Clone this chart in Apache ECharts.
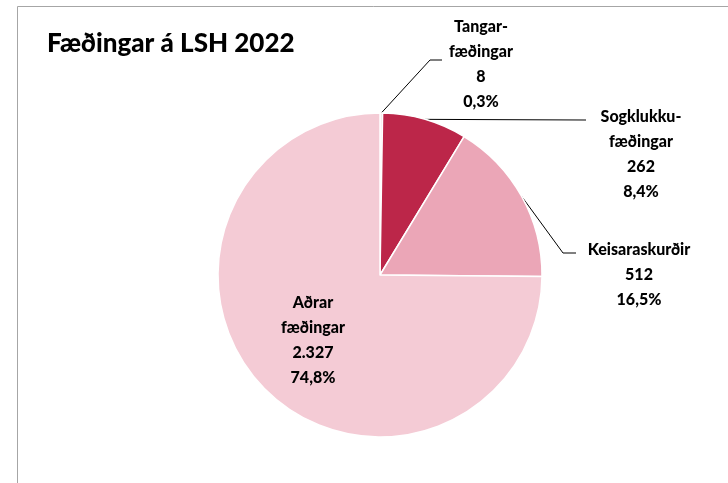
<!DOCTYPE html>
<html>
<head>
<meta charset="utf-8">
<script src="https://cdn.jsdelivr.net/npm/echarts@6/dist/echarts.min.js"></script>
<style>
  html, body { margin: 0; padding: 0; background: #fff; }
  #chart { width: 728px; height: 483px; }
</style>
</head>
<body>
<div id="chart"></div>
<script>
// gögn lesin af myndinni
const categories = ['Tangar-\nfæðingar', 'Sogklukku-\nfæðingar', 'Keisaraskurðir', 'Aðrar\nfæðingar'];
const births = [8, 262, 512, 2327];
const sliceColors = ['#f7dde3', '#bc2649', '#eba6b7', '#f4cbd5'];

// staðsetning merkja (miðja textans) og brotpunktar leiðarlína
const labelSpots = [
  { x: 481, y: 64, bend: [430, 60], end: [442, 60] },
  { x: 641, y: 154, bend: null, end: [586, 120] },
  { x: 639, y: 275, bend: [563, 253], end: [576, 253] },
  { x: 313, y: 340 }
];

const total = births.reduce((a, b) => a + b, 0);

// íslensk talnaframsetning: 2.327 og 74,8%
function fmtNum(v) {
  return String(v).replace(/\B(?=(\d{3})+(?!\d))/g, '.');
}
function fmtPct(v) {
  return (v / total * 100).toFixed(1).replace('.', ',') + '%';
}

const chart = echarts.init(document.getElementById('chart'));

const option = {
  animation: false,
  textStyle: { fontFamily: 'Lato, "Open Sans", sans-serif' },
  graphic: [
    {
      type: 'rect',
      shape: { x: 17.5, y: 6.5, width: 800, height: 600 },
      style: { fill: 'none', stroke: '#a6a6a6', lineWidth: 1 }
    },
    {
      type: 'text',
      left: 47,
      top: 31,
      style: {
        text: 'Fæðingar á LSH 2022',
        font: '900 26px Lato, "Open Sans", sans-serif',
        fill: '#000'
      }
    }
  ],
  series: [
    {
      type: 'pie',
      center: [380, 275],
      radius: 162,
      startAngle: 90,
      clockwise: true,
      avoidLabelOverlap: false,
      itemStyle: { borderColor: '#fff', borderWidth: 1.5 },
      label: {
        show: true,
        position: 'outside',
        color: '#000',
        fontSize: 16,
        fontWeight: 900,
        lineHeight: 25,
        align: 'center',
        formatter: p => p.name + '\n' + fmtNum(p.value) + '\n' + fmtPct(p.value)
      },
      labelLine: {
        show: true,
        lineStyle: { color: '#000', width: 1 }
      },
      labelLayout: function (params) {
        const s = labelSpots[params.dataIndex];
        const res = { x: s.x, y: s.y, align: 'center', verticalAlign: 'middle' };
        if (params.labelLinePoints && s.end) {
          const a = params.labelLinePoints[0];
          res.labelLinePoints = s.bend ? [a, s.bend, s.end] : [a, [s.end[0] - 1, s.end[1]], s.end];
        }
        return res;
      },
      data: categories.map((name, i) => {
        const item = { name: name, value: births[i], itemStyle: { color: sliceColors[i] } };
        if (i === 3) {
          item.label = { position: 'inside' };
          item.labelLine = { show: false };
        }
        return item;
      })
    }
  ]
};

chart.setOption(option);
window.addEventListener('resize', () => chart.resize());
</script>
</body>
</html>
